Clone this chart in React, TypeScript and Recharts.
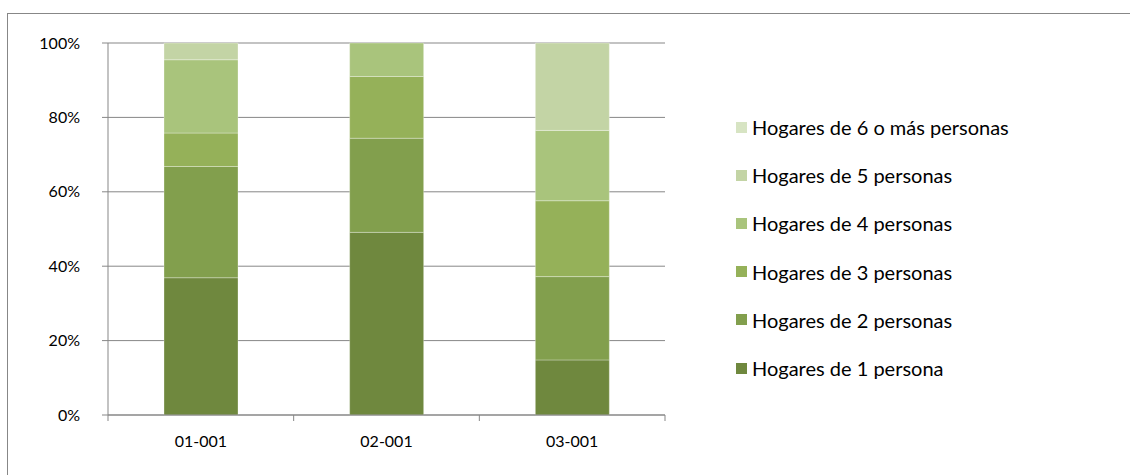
import { BarChart, Bar, XAxis, YAxis, CartesianGrid } from "recharts";

// Distribución de hogares por tamaño, en % del total de cada zona
const ZONAS = ["01-001", "02-001", "03-001"];
const HOGARES_1 = [36.9, 49.1, 14.8];
const HOGARES_2 = [29.9, 25.3, 22.4];
const HOGARES_3 = [9.0, 16.6, 20.4];
const HOGARES_4 = [19.7, 9.0, 18.9];
const HOGARES_5 = [4.5, 0, 23.5];
const HOGARES_6 = [0, 0, 0];
const Y_TICKS = [0, 20, 40, 60, 80, 100];

const SERIES = [
  { key: "h1", name: "Hogares de 1 persona", values: HOGARES_1, color: "#6f883e" },
  { key: "h2", name: "Hogares de 2 personas", values: HOGARES_2, color: "#829f4d" },
  { key: "h3", name: "Hogares de 3 personas", values: HOGARES_3, color: "#95b159" },
  { key: "h4", name: "Hogares de 4 personas", values: HOGARES_4, color: "#a9c47c" },
  { key: "h5", name: "Hogares de 5 personas", values: HOGARES_5, color: "#c3d4a5" },
  { key: "h6", name: "Hogares de 6 o más personas", values: HOGARES_6, color: "#d7e4c3" },
];

const data = ZONAS.map((zona, i) => {
  const row: Record<string, string | number> = { zona };
  SERIES.forEach((s) => (row[s.key] = s.values[i]));
  return row;
});

const W = 1130;
const H = 475;
const MARGIN = { top: 43, right: 465, bottom: 0, left: 8 };
const Y_AXIS_W = 100;
const X_AXIS_H = 60;
const AXIS_Y = H - MARGIN.bottom - X_AXIS_H;
const BAND = (W - MARGIN.right - MARGIN.left - Y_AXIS_W) / ZONAS.length;
const GRAY = "#878787";
const FONT = "Lato, 'Open Sans', sans-serif";

function ZonaTick(props: any) {
  const { x, payload, index } = props;
  const half = BAND / 2;
  return (
    <g>
      <line x1={x - half} x2={x - half} y1={AXIS_Y} y2={AXIS_Y + 6} stroke={GRAY} />
      {index === ZONAS.length - 1 && (
        <line x1={x + half} x2={x + half} y1={AXIS_Y} y2={AXIS_Y + 6} stroke={GRAY} />
      )}
      <text x={x} y={AXIS_Y + 32} textAnchor="middle" fill="#000" fontSize={16} fontFamily={FONT}>
        {payload.value}
      </text>
    </g>
  );
}

// leyenda en orden inverso al apilado, como en la columna
function Leyenda() {
  return (
    <div
      style={{
        position: "absolute",
        left: 736,
        top: 103,
        fontFamily: FONT,
        fontSize: 20,
        color: "#000",
      }}
    >
      {[...SERIES].reverse().map((s) => (
        <div key={s.key} style={{ display: "flex", alignItems: "center", height: 48.2 }}>
          <span style={{ width: 11, height: 11, background: s.color, marginRight: 5 }} />
          <span>{s.name}</span>
        </div>
      ))}
    </div>
  );
}

export default function App() {
  return (
    <div
      style={{
        position: "absolute",
        left: 0,
        top: 0,
        width: W,
        height: H,
        overflow: "hidden",
        background: "#fff",
      }}
    >
      <BarChart width={W} height={H} data={data} margin={MARGIN}>
        <CartesianGrid vertical={false} stroke={GRAY} strokeWidth={1} />
        <XAxis
          dataKey="zona"
          height={X_AXIS_H}
          stroke={GRAY}
          tickLine={false}
          tick={<ZonaTick />}
          interval={0}
        />
        <YAxis
          width={Y_AXIS_W}
          domain={[0, 100]}
          ticks={Y_TICKS}
          tickFormatter={(v) => `${v}%`}
          stroke={GRAY}
          tickSize={6}
          tickMargin={22}
          tick={{ fill: "#000", fontSize: 16, fontFamily: FONT }}
        />
        {SERIES.map((s) => (
          <Bar
            key={s.key}
            dataKey={s.key}
            name={s.name}
            stackId="hogares"
            fill={s.color}
            stroke="#ffffff"
            strokeOpacity={0.3}
            barSize={74}
            isAnimationActive={false}
          />
        ))}
      </BarChart>
      <Leyenda />
      {/* marco del área del gráfico */}
      <div
        style={{
          position: "absolute",
          left: 7,
          top: 13,
          width: W,
          height: H,
          borderTop: `1px solid ${GRAY}`,
          borderLeft: `1px solid ${GRAY}`,
          pointerEvents: "none",
        }}
      />
    </div>
  );
}
